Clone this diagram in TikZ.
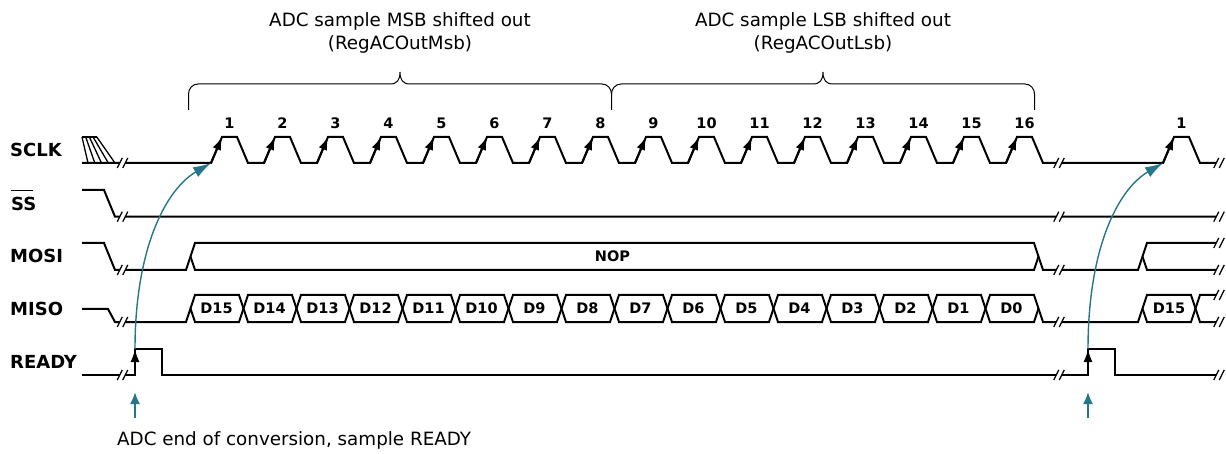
\documentclass[tikz,border=0pt]{standalone}
\usepackage{fontspec}
\setmainfont{DejaVu Sans}
\usetikzlibrary{arrows.meta}
\definecolor{tealc}{RGB}{38,118,138}
\tikzset{
  wave/.style={line width=2pt},
  hatchline/.style={line width=1.3pt},
  edgearrow/.style={line width=2pt,-{Latex[length=13pt,width=9pt]}},
  tealcurve/.style={tealc,line width=1.4pt,-{Latex[length=18pt,width=11pt]}},
  tealup/.style={tealc,line width=2pt,-{Latex[length=12pt,width=10pt]}},
  bracel/.style={line width=1pt},
  lbl/.style={font=\bfseries\fontsize{18}{20}\selectfont,anchor=west,inner sep=0pt},
  num/.style={font=\bfseries\fontsize{14.5}{16}\selectfont,anchor=base,inner sep=0pt},
  dat/.style={font=\bfseries\fontsize{14.5}{16}\selectfont,inner sep=0pt},
  hdr/.style={font=\fontsize{18.3}{20}\selectfont,anchor=base,inner sep=0pt},
  brk/.pic={
    \fill[white] (-5.25,5)--(-0.25,-5)--(5.25,-5)--(0.25,5)--cycle;
    \draw[line width=1.2pt] (-5.25,5)--(-0.25,-5) (0.25,5)--(5.25,-5);
  }
}
\begin{document}
\begin{tikzpicture}[x=1pt,y=-1pt]
\useasboundingbox (0,0) rectangle (1226,454);

% ---------- signal labels ----------
\node[lbl] (lsclk) at (10,150) {SCLK};
\node[lbl] (lss) at (11,203.5) {SS};
\draw[line width=1.6pt] (11,190.5)--(32.5,190.5);
\node[lbl] (lmosi) at (10,255.5) {MOSI};
\node[lbl] (lmiso) at (10,308.5) {MISO};
\node[lbl] (lready) at (10,361.5) {READY};

% ---------- SCLK ----------
\draw[hatchline] (82,137)--(97,137);
\draw[hatchline] (82,137)--(88,163);
\draw[hatchline] (85.7,137)--(94.8,163);
\draw[hatchline] (89.4,137)--(101.5,163);
\draw[hatchline] (93.1,137)--(108.3,163);
\draw[hatchline] (96.8,137)--(115,163);
\draw[wave] (82,163) -- (211,163)
  \foreach \k in {0,...,15}{ -- ({211+53*\k},163) -- ({222+53*\k},137) -- ({237+53*\k},137) -- ({248+53*\k},163) }
  -- (1163,163) -- (1174,137) -- (1189,137) -- (1200,163) -- (1216,163);
\foreach \k in {1,...,16}{
  \pgfmathsetmacro{\a}{211+53*(\k-1)}
  \draw[edgearrow] (\a,163) -- (\a+11,137);
  \node[num] (num\k) at (\a+18.5,128.3) {\k};
}
\draw[edgearrow] (1163,163) -- (1174,137);
\node[num] (numb1) at (1181.5,128.3) {1};

% ---------- SS ----------
\draw[wave] (82,190)--(104,190)--(115,216.7)--(1216,216.7);

% ---------- MOSI ----------
\draw[wave] (82,243)--(104,243)--(115,270)--(186,270)--(190.5,256.5)--(195,243)--(1034,243)--(1043,270)--(1138,270)--(1142.5,256.5)--(1147,243)--(1216,243);
\draw[wave] (190.5,256.5)--(195,270)--(1034,270)--(1038.5,256.5);
\draw[wave] (1142.5,256.5)--(1147,270)--(1216,270);
\node[dat] (nop) at (612.5,256.5) {NOP};

% ---------- MISO ----------
\draw[wave] (82,309)--(108,309)--(115,322)--(186,322)--(190.5,308.5)
  \foreach \j in {0,2,...,14}{ -- ({190.5+53*\j+4.5},322) -- ({190.5+53*(\j+1)-4.5},322) -- ({190.5+53*(\j+1)+4.5},295) -- ({190.5+53*(\j+2)-4.5},295) }
  -- (1043,322) -- (1138,322) -- (1142.5,308.5) -- (1147,295) -- (1191,295) -- (1200,322) -- (1216,322);
\draw[wave] (190.5,308.5)
  \foreach \j in {0,2,...,14}{ -- ({190.5+53*\j+4.5},295) -- ({190.5+53*(\j+1)-4.5},295) -- ({190.5+53*(\j+1)+4.5},322) -- ({190.5+53*(\j+2)-4.5},322) }
  -- (1038.5,308.5);
\draw[wave] (1142.5,308.5)--(1147,322)--(1191,322)--(1200,295)--(1216,295);
\foreach \j in {0,...,15}{
  \pgfmathtruncatemacro{\d}{15-\j}
  \node[dat] (d\d) at ({216.5+53*\j},308.5) {D\d};
}
\node[dat] (db15) at (1169,308.5) {D15};

% ---------- READY ----------
\draw[wave] (82,375)--(135,375)--(135,349)--(162,349)--(162,375)--(1088,375)--(1088,349)--(1115,349)--(1115,375)--(1216,375);

% ---------- breaks ----------
\foreach \y in {163,216.7,270,322,375}{
  \pic at (122.5,\y) {brk};
  \pic at (1059,\y) {brk};
}
\foreach \y in {163,216.7,243,270,295,322,375}{
  \pic at (1219,\y) {brk};
}

% ---------- teal arrows ----------
\coordinate (rdy1) at (135,349);
\coordinate (clk1) at (211,163);
\coordinate (rdy2) at (1088,349);
\coordinate (clk2) at (1163,163);
\draw[tealcurve] (rdy1) .. controls (135,250) and (165,190) .. (clk1);
\draw[tealcurve] (rdy2) .. controls (1088,250) and (1117,190) .. (clk2);
\draw[edgearrow] (135,375) -- (rdy1);
\draw[edgearrow] (1088,375) -- (rdy2);

\coordinate (ev1b) at (135,418);
\coordinate (ev1t) at (135,392);
\coordinate (ev2b) at (1088,418);
\coordinate (ev2t) at (1088,392);
\draw[tealup] (ev1b) -- (ev1t);
\draw[tealup] (ev2b) -- (ev2t);

\node[hdr,anchor=base west] (eoc) at (117,445.5) {ADC end of conversion, sample READY};

% ---------- braces ----------
\draw[bracel] (188.5,110) -- (188.5,94) to[out=90,in=180] (198,84) -- (390,84)
  .. controls (397,84) and (400,80) .. (400,72)
  .. controls (400,80) and (403,84) .. (410,84) -- (602,84) to[out=0,in=90] (611.5,94) -- (611.5,110);
\draw[bracel] (611.5,94) to[out=90,in=180] (621,84) -- (813,84)
  .. controls (820,84) and (823,80) .. (823,72)
  .. controls (823,80) and (826,84) .. (833,84) -- (1025,84) to[out=0,in=90] (1034.5,94) -- (1034.5,110);

\node[hdr] (h1a) at (400,27) {ADC sample MSB shifted out};
\node[hdr] (h1b) at (400,49.5) {(RegACOutMsb)};
\node[hdr] (h2a) at (823,27) {ADC sample LSB shifted out};
\node[hdr] (h2b) at (823,49.5) {(RegACOutLsb)};
\end{tikzpicture}
\end{document}
